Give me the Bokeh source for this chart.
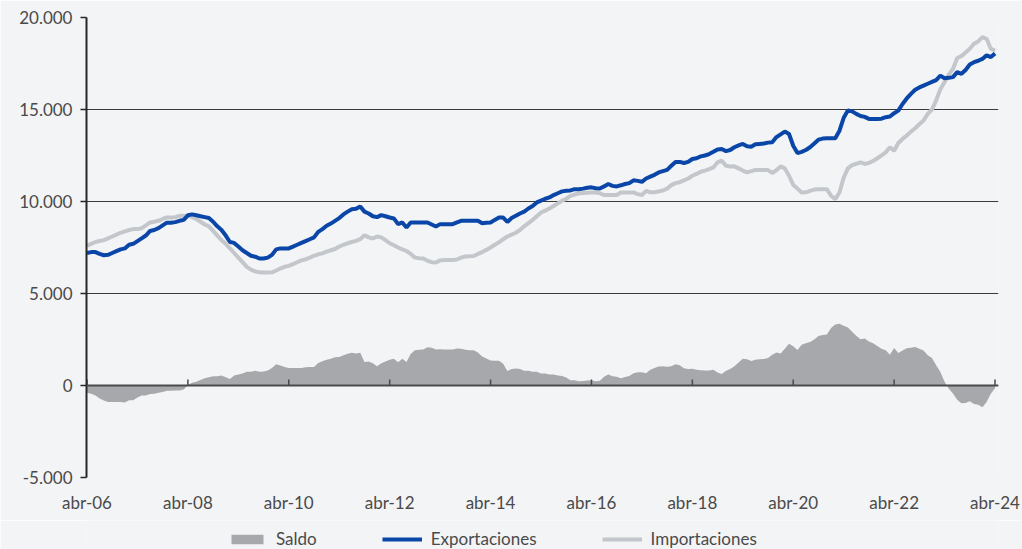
from bokeh.plotting import figure
from bokeh.layouts import column
from bokeh.models import (ColumnDataSource, Range1d, FixedTicker, Legend, LegendItem, Span)
from bokeh.embed import file_html
from bokeh.resources import INLINE

# ---- data (monthly, abr-06 .. abr-24) ----
exportaciones = [
    7200, 7250, 7250, 7150, 7080, 7100, 7200, 7300, 7400, 7450, 7650, 7700,
    7850, 8000, 8150, 8400, 8450, 8550, 8700, 8850, 8850, 8880, 8950, 9000,
    9250, 9300, 9250, 9200, 9150, 9100, 8900, 8650, 8450, 8150, 7800, 7750,
    7550, 7350, 7200, 7050, 7000, 6900, 6900, 6950, 7100, 7400, 7450, 7450,
    7450, 7550, 7650, 7750, 7850, 7950, 8050, 8350, 8500, 8680, 8800, 8950,
    9100, 9300, 9450, 9580, 9600, 9730, 9450, 9350, 9200, 9150, 9260, 9200,
    9130, 9080, 8770, 8860, 8590, 8860, 8860, 8860, 8860, 8860, 8750, 8640,
    8770, 8770, 8770, 8770, 8860, 8950, 8950, 8950, 8950, 8950, 8820, 8840,
    8860, 9000, 9130, 9130, 8890, 9100, 9220, 9350, 9450, 9620, 9750, 9950,
    10050, 10150, 10220, 10350, 10450, 10550, 10580, 10600, 10670, 10670, 10700, 10750,
    10770, 10720, 10710, 10820, 10950, 10850, 10820, 10880, 10950, 11000, 11150, 11120,
    11070, 11250, 11350, 11450, 11580, 11650, 11720, 11940, 12150, 12150, 12090, 12150,
    12310, 12350, 12450, 12500, 12580, 12700, 12830, 12850, 12740, 12800, 12950, 13050,
    13130, 13000, 12980, 13110, 13130, 13150, 13200, 13220, 13500, 13650, 13800, 13670,
    13030, 12630, 12700, 12800, 12950, 13150, 13360, 13420, 13440, 13440, 13440, 13850,
    14550, 14950, 14900, 14760, 14650, 14600, 14490, 14490, 14490, 14500, 14580, 14620,
    14800, 14940, 15300, 15600, 15850, 16070, 16200, 16300, 16400, 16500, 16600, 16840,
    16700, 16720, 16760, 17030, 16940, 17150, 17450, 17570, 17650, 17750, 17950, 17850,
    18050,
]
importaciones = [
    7600, 7700, 7800, 7850, 7900, 8000, 8100, 8200, 8300, 8380, 8450, 8500,
    8500, 8550, 8700, 8860, 8900, 8950, 9050, 9130, 9130, 9150, 9220, 9220,
    9220, 9150, 9050, 8900, 8750, 8650, 8400, 8150, 7900, 7700, 7450, 7200,
    6950, 6700, 6450, 6300, 6200, 6150, 6140, 6140, 6150, 6250, 6360, 6450,
    6500, 6600, 6700, 6800, 6860, 6950, 7050, 7130, 7180, 7280, 7350, 7420,
    7550, 7650, 7730, 7800, 7860, 7950, 8170, 8050, 7990, 8100, 8050, 7900,
    7730, 7620, 7500, 7400, 7310, 7150, 6950, 6920, 6900, 6780, 6700, 6680,
    6800, 6820, 6820, 6820, 6850, 6950, 7010, 7030, 7040, 7150, 7250, 7370,
    7500, 7650, 7780, 7950, 8100, 8200, 8300, 8450, 8650, 8820, 9000, 9200,
    9400, 9500, 9620, 9750, 9900, 10040, 10150, 10310, 10380, 10440, 10460, 10480,
    10490, 10490, 10450, 10350, 10350, 10350, 10350, 10490, 10490, 10490, 10490, 10400,
    10350, 10580, 10500, 10500, 10550, 10600, 10700, 10890, 11000, 11050, 11150, 11250,
    11400, 11500, 11620, 11680, 11760, 11850, 12130, 12220, 11940, 11900, 11910, 11800,
    11680, 11580, 11650, 11710, 11710, 11710, 11710, 11550, 11700, 11910, 11800, 11400,
    10900, 10700, 10490, 10500, 10580, 10650, 10670, 10670, 10670, 10310, 10130, 10490,
    11300, 11800, 11980, 12050, 12130, 12040, 12100, 12200, 12350, 12500, 12670, 12950,
    12760, 13180, 13400, 13580, 13800, 13980, 14200, 14400, 14760, 15000, 15500, 16100,
    16500, 16900, 17200, 17800, 17900, 18100, 18300, 18570, 18700, 18930, 18840, 18300,
    18200,
]
saldo = [e - i for e, i in zip(exportaciones, importaciones)]
meses = list(range(len(exportaciones)))

x_tick_pos = [0, 24, 48, 72, 96, 120, 144, 168, 192, 216]
x_tick_labels = ["abr-06", "abr-08", "abr-10", "abr-12", "abr-14",
                 "abr-16", "abr-18", "abr-20", "abr-22", "abr-24"]
y_tick_pos = [-5000, 0, 5000, 10000, 15000, 20000]
y_tick_labels = ["-5.000", "0", "5.000", "10.000", "15.000", "20.000"]
series_names = ["Saldo", "Exportaciones", "Importaciones"]

# ---- style ----
BG = "#f3f4f6"
BLUE = "#0a46a8"
LIGHT = "#c3c7cb"
AREA = "#a7a8ab"
TXT = "#4a4a4a"
FONT = "Lato"
LW = 4

src = ColumnDataSource(dict(x=meses, exp=exportaciones, imp=importaciones, saldo=saldo))

p = figure(width=1022, height=520, output_backend="svg", toolbar_location=None,
           x_range=Range1d(-0.12, 216.83), y_range=Range1d(-5000, 20000),
           min_border_left=86, min_border_right=24, min_border_top=17, min_border_bottom=43)
p.background_fill_color = BG
p.border_fill_color = BG
p.outline_line_color = None

# grid
p.xgrid.grid_line_color = None
p.ygrid.ticker = FixedTicker(ticks=y_tick_pos)
p.ygrid.grid_line_color = "#3a3a3a"
p.ygrid.grid_line_width = 1

# y axis
ya = p.yaxis[0]
ya.ticker = FixedTicker(ticks=y_tick_pos)
ya.major_label_overrides = {v: l for v, l in zip(y_tick_pos, y_tick_labels)}
ya.axis_line_color = "#262626"
ya.axis_line_width = 2
ya.major_tick_line_color = "#262626"
ya.major_tick_line_width = 1.5
ya.major_tick_out = 6
ya.major_tick_in = 0
ya.minor_tick_line_color = None
ya.major_label_standoff = 8
ya.major_label_text_font = FONT
ya.major_label_text_font_size = "17px"
ya.major_label_text_color = TXT

# x axis
xa = p.xaxis[0]
xa.ticker = FixedTicker(ticks=x_tick_pos)
xa.major_label_overrides = {v: l for v, l in zip(x_tick_pos, x_tick_labels)}
xa.axis_line_color = None
xa.major_tick_line_color = None
xa.minor_tick_line_color = None
xa.major_tick_out = 0
xa.major_tick_in = 0
xa.major_label_standoff = 14
xa.major_label_text_font = FONT
xa.major_label_text_font_size = "17px"
xa.major_label_text_color = TXT

# series
p.varea(x="x", y1=0, y2="saldo", source=src, fill_color=AREA)
p.line("x", "imp", source=src, line_color=LIGHT, line_width=LW)
p.line("x", "exp", source=src, line_color=BLUE, line_width=LW)

# zero line with upward ticks
p.add_layout(Span(location=0, dimension="width", line_color="#4a4a4a", line_width=2))
p.segment(x0=x_tick_pos, y0=[0] * len(x_tick_pos), x1=x_tick_pos, y1=[330] * len(x_tick_pos),
          line_color="#4a4a4a", line_width=1.5)

# ---- legend strip (separate small figure under the chart) ----
q = figure(width=1022, height=29, output_backend="svg", toolbar_location=None,
           x_range=Range1d(-1000, -999), y_range=Range1d(-1000, -999),
           x_axis_type=None, y_axis_type=None,
           min_border_left=0, min_border_right=0, min_border_top=0, min_border_bottom=0)
q.background_fill_color = BG
q.border_fill_color = BG
q.outline_line_color = None
q.xgrid.grid_line_color = None
q.ygrid.grid_line_color = None
# same series, drawn outside the visible range; only their legend swatches show
l_saldo = q.varea(x="x", y1=0, y2="saldo", source=src, fill_color=AREA)
l_exp = q.line("x", "exp", source=src, line_color=BLUE, line_width=LW)
l_imp = q.line("x", "imp", source=src, line_color=LIGHT, line_width=LW)

legend = Legend(items=[LegendItem(label=series_names[0], renderers=[l_saldo]),
                       LegendItem(label=series_names[1], renderers=[l_exp]),
                       LegendItem(label=series_names[2], renderers=[l_imp])],
                orientation="horizontal", location=(141, 0),
                background_fill_alpha=0, border_line_color=None,
                glyph_width=40, glyph_height=12, label_height=16, label_standoff=9,
                spacing=65, padding=2, margin=0,
                label_text_font=FONT, label_text_font_size="17px", label_text_color=TXT)
q.add_layout(legend, "center")

layout = column(p, q, spacing=0)
open("out.html", "w").write(file_html(layout, INLINE))
